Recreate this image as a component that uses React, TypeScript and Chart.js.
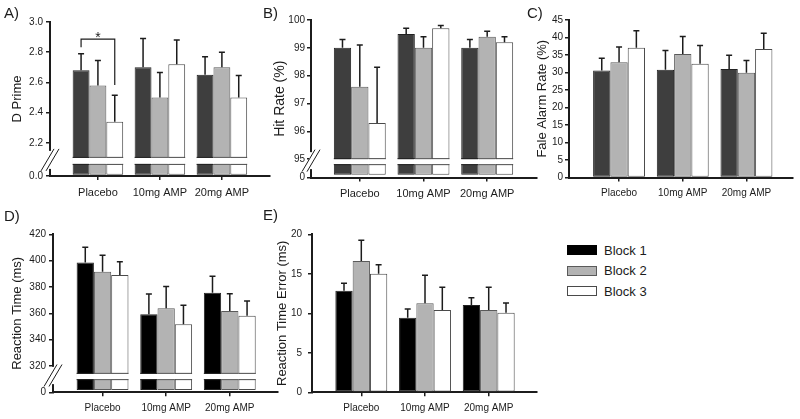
import React, { useEffect, useRef } from 'react';
import { Chart, registerables } from 'chart.js';

Chart.register(...registerables);

const FONT = '"Liberation Sans", Arial, Helvetica, sans-serif';
const INK = '#1c1c1c';

// ---------- data ----------
const categories = ['Placebo', '10mg AMP', '20mg AMP'];
const blockLabels = ['Block 1', 'Block 2', 'Block 3'];

// A) D Prime
const dPrimeBlock1 = [2.68, 2.70, 2.65];
const dPrimeBlock2 = [2.58, 2.50, 2.70];
const dPrimeBlock3 = [2.34, 2.72, 2.50];
const dPrimeSem1 = [0.11, 0.19, 0.12];
const dPrimeSem2 = [0.165, 0.165, 0.10];
const dPrimeSem3 = [0.175, 0.16, 0.145];
const dPrimeTicks = [2.2, 2.4, 2.6, 2.8, 3.0];

// B) Hit Rate (%)
const hitBlock1 = [99.0, 99.5, 99.0];
const hitBlock2 = [97.6, 99.0, 99.4];
const hitBlock3 = [96.3, 99.7, 99.2];
const hitSem1 = [0.3, 0.2, 0.3];
const hitSem2 = [1.5, 0.4, 0.2];
const hitSem3 = [2.0, 0.1, 0.2];
const hitTicks = [95, 96, 97, 98, 99, 100];

// C) False alarm rate (%)
const faBlock1 = [30.6, 30.8, 31.0];
const faBlock2 = [32.9, 35.3, 29.9];
const faBlock3 = [37.1, 32.5, 36.7];
const faSem1 = [3.5, 5.5, 3.9];
const faSem2 = [4.4, 5.0, 3.5];
const faSem3 = [4.8, 5.2, 4.5];
const faTicks = [0, 5, 10, 15, 20, 25, 30, 35, 40, 45];

// D) Reaction time (ms)
const rtBlock1 = [398.5, 359.2, 375.7];
const rtBlock2 = [391.6, 363.8, 361.8];
const rtBlock3 = [389.1, 351.6, 358.2];
const rtSem1 = [11.6, 15.5, 12.4];
const rtSem2 = [12.5, 16.5, 13.1];
const rtSem3 = [10.1, 14.5, 11.2];
const rtTicks = [320, 340, 360, 380, 400, 420];

// E) Reaction time error (ms)
const rteBlock1 = [12.87, 9.45, 11.05];
const rteBlock2 = [16.62, 11.27, 10.42];
const rteBlock3 = [15.02, 10.42, 10.08];
const rteSem1 = [0.93, 1.1, 0.93];
const rteSem2 = [2.62, 3.54, 2.87];
const rteSem3 = [1.14, 2.87, 1.23];
const rteTicks = [0, 5, 10, 15, 20];

// ---------- panel specs ----------
const GREY_COLORS = ['#3e3e3e', '#b3b3b3', '#ffffff'];
const BLACK_COLORS = ['#000000', '#b3b3b3', '#ffffff'];
const BORDERS = ['#222222', '#5a5a5a', '#4a4a4a'];

type Spec = any;

const specs: Spec[] = [
  {
    key: 'A', letter: 'A)', letterPos: [4, 5],
    canvas: { left: 0, top: 0, width: 280, height: 210 },
    pad: { left: 0, top: 22, right: 10, bottom: 0 }, yWidth: 50, xHeight: 34,
    xRange: [-0.773, 2.776],
    yMin: 1.98, yMax: 3.0, yTicks: dPrimeTicks, zeroLabel: '0.0', decimals: 1,
    base: 1.988, breakRange: [2.06, 2.10],
    title: 'D Prime', titleSize: 13, titlePad: 9.2,
    tickSize: 10, tickPad: 3, labelSize: 11,
    series: [dPrimeBlock1, dPrimeBlock2, dPrimeBlock3],
    sems: [dPrimeSem1, dPrimeSem2, dPrimeSem3],
    colors: GREY_COLORS,
    bracket: { from: 0, to: 2, index: 0, level: 2.886, leftEnd: 2.833, rightEnd: 2.583, text: '*' },
  },
  {
    key: 'B', letter: 'B)', letterPos: [263, 5],
    canvas: { left: 265, top: 0, width: 280, height: 210 },
    pad: { left: 0, top: 20, right: 8, bottom: 0 }, yWidth: 46, xHeight: 32.5,
    xRange: [-0.766, 2.782],
    yMin: 94.34, yMax: 100, yTicks: hitTicks, zeroLabel: '0', decimals: 0,
    base: 94.44, breakRange: [94.82, 95.0],
    title: 'Hit Rate (%)', titleSize: 14, titlePad: 6.6,
    tickSize: 10, tickPad: 2, labelSize: 11,
    series: [hitBlock1, hitBlock2, hitBlock3],
    sems: [hitSem1, hitSem2, hitSem3],
    colors: GREY_COLORS,
  },
  {
    key: 'C', letter: 'C)', letterPos: [527, 5],
    canvas: { left: 525, top: 0, width: 275, height: 210 },
    pad: { left: 0, top: 20, right: 7, bottom: 0 }, yWidth: 44, xHeight: 32.5,
    xRange: [-0.786, 2.731],
    yMin: 0, yMax: 45, yTicks: faTicks, decimals: 0,
    title: 'Fale Alarm Rate (%)', titleSize: 13, titlePad: 9.2,
    tickSize: 10, tickPad: 2, labelSize: 10,
    series: [faBlock1, faBlock2, faBlock3],
    sems: [faSem1, faSem2, faSem3],
    colors: GREY_COLORS,
  },
  {
    key: 'D', letter: 'D)', letterPos: [4, 208],
    canvas: { left: 0, top: 205, width: 285, height: 214 },
    pad: { left: 0, top: 29.3, right: 7, bottom: 0 }, yWidth: 53, xHeight: 26.7,
    xRange: [-0.779, 2.758],
    yMin: 300, yMax: 420, yTicks: rtTicks, zeroLabel: '0', decimals: 0,
    base: 301.8, breakRange: [310, 314],
    title: 'Reaction Time (ms)', titleSize: 13, titlePad: 9.7,
    tickSize: 10, tickPad: 3, labelSize: 10,
    series: [rtBlock1, rtBlock2, rtBlock3],
    sems: [rtSem1, rtSem2, rtSem3],
    colors: BLACK_COLORS,
  },
  {
    key: 'E', letter: 'E)', letterPos: [263, 207],
    canvas: { left: 265, top: 205, width: 280, height: 214 },
    pad: { left: 0, top: 29.3, right: 8, bottom: 0 }, yWidth: 47, xHeight: 26.7,
    xRange: [-0.774, 2.758],
    yMin: 0, yMax: 20, yTicks: rteTicks, decimals: 0,
    title: 'Reaction Time Error (ms)', titleSize: 13, titlePad: 9.7,
    tickSize: 10, tickPad: 6, labelSize: 10,
    series: [rteBlock1, rteBlock2, rteBlock3],
    sems: [rteSem1, rteSem2, rteSem3],
    colors: BLACK_COLORS,
  },
];

// ---------- plugin ----------
function makeExtras(spec: Spec) {
  return {
    id: 'extras' + spec.key,
    afterDatasetsDraw(chart: any) {
      const ctx = chart.ctx;
      const ys = chart.scales.y;
      if (spec.breakRange) {
        const yHi = ys.getPixelForValue(spec.breakRange[1]);
        const yLo = ys.getPixelForValue(spec.breakRange[0]);
        ctx.save();
        chart.data.datasets.forEach((ds: any, di: number) => {
          chart.getDatasetMeta(di).data.forEach((bar: any) => {
            const l = bar.x - bar.width / 2;
            const w = bar.width;
            ctx.fillStyle = '#ffffff';
            ctx.fillRect(l - 0.5, yHi, w + 1, yLo - yHi);
            ctx.strokeStyle = ds.borderColor;
            ctx.lineWidth = 1;
            ctx.beginPath();
            ctx.moveTo(l, yHi - 0.5);
            ctx.lineTo(l + w, yHi - 0.5);
            ctx.moveTo(l, yLo + 0.5);
            ctx.lineTo(l + w, yLo + 0.5);
            ctx.stroke();
          });
        });
        ctx.restore();
      }
      ctx.save();
      ctx.strokeStyle = INK;
      ctx.lineWidth = 1.5;
      spec.sems.forEach((sem: number[], di: number) => {
        chart.getDatasetMeta(di).data.forEach((bar: any, i: number) => {
          const top = ys.getPixelForValue(spec.series[di][i] + sem[i]);
          ctx.beginPath();
          ctx.moveTo(bar.x, bar.y);
          ctx.lineTo(bar.x, top);
          ctx.moveTo(bar.x - 3, top);
          ctx.lineTo(bar.x + 3, top);
          ctx.stroke();
        });
      });
      ctx.restore();
    },
    afterDraw(chart: any) {
      const ctx = chart.ctx;
      const ys = chart.scales.y;
      if (spec.breakRange) {
        const yHi = ys.getPixelForValue(spec.breakRange[1]);
        const yLo = ys.getPixelForValue(spec.breakRange[0]);
        const xA = chart.chartArea.left;
        const gTop = yHi - 7;
        const gBot = yLo + 5;
        ctx.save();
        ctx.fillStyle = '#ffffff';
        ctx.fillRect(xA - 2, gTop, 4, gBot - gTop);
        const cy = (gTop + gBot) / 2;
        ctx.strokeStyle = INK;
        ctx.lineWidth = 1;
        [-2.5, 2.5].forEach((off) => {
          ctx.beginPath();
          ctx.moveTo(xA + off - 6.5, cy + 11);
          ctx.lineTo(xA + off + 6.5, cy - 11);
          ctx.stroke();
        });
        ctx.restore();
      }
      if (spec.bracket) {
        const b = spec.bracket;
        const x0 = chart.getDatasetMeta(b.from).data[b.index].x;
        const x1 = chart.getDatasetMeta(b.to).data[b.index].x;
        const yb = ys.getPixelForValue(b.level);
        const yl = ys.getPixelForValue(b.leftEnd);
        const yr = ys.getPixelForValue(b.rightEnd);
        ctx.save();
        ctx.strokeStyle = INK;
        ctx.lineWidth = 1.2;
        ctx.beginPath();
        ctx.moveTo(x0, yl);
        ctx.lineTo(x0, yb);
        ctx.lineTo(x1, yb);
        ctx.lineTo(x1, yr);
        ctx.stroke();
        ctx.fillStyle = INK;
        ctx.font = `14px ${FONT}`;
        ctx.textAlign = 'center';
        ctx.textBaseline = 'alphabetic';
        ctx.fillText(b.text, (x0 + x1) / 2, yb + 3);
        ctx.restore();
      }
    },
  };
}

function buildConfig(spec: Spec): any {
  const yTickVals = spec.zeroLabel ? [spec.yMin, ...spec.yTicks] : spec.yTicks;
  return {
    type: 'bar',
    data: {
      datasets: spec.series.map((vals: number[], k: number) => ({
        label: blockLabels[k],
        data: vals.map((v, i) => ({ x: i, y: v })),
        backgroundColor: spec.colors[k],
        borderColor: BORDERS[k],
        borderWidth: 1,
        borderSkipped: false,
        categoryPercentage: 0.815,
        barPercentage: 1,
        ...(spec.base !== undefined ? { base: spec.base } : {}),
      })),
    },
    options: {
      responsive: false,
      animation: false,
      events: [],
      layout: { padding: spec.pad },
      plugins: { legend: { display: false }, tooltip: { enabled: false } },
      scales: {
        x: {
          type: 'linear',
          offset: false,
          min: spec.xRange[0],
          max: spec.xRange[1],
          afterBuildTicks: (s: any) => {
            s.ticks = categories.map((_, i) => ({ value: i }));
          },
          afterFit: (s: any) => {
            s.height = spec.xHeight;
          },
          grid: { offset: false, drawOnChartArea: false, drawTicks: true, tickLength: 4, color: INK, lineWidth: 1.5 },
          border: { display: true, color: INK, width: 2 },
          ticks: {
            color: INK,
            font: { family: FONT, size: spec.labelSize },
            padding: 6,
            maxRotation: 0,
            autoSkip: false,
            callback: (v: number) => categories[v] ?? '',
          },
        },
        y: {
          type: 'linear',
          min: spec.yMin,
          max: spec.yMax,
          afterBuildTicks: (s: any) => {
            s.ticks = yTickVals.map((v: number) => ({ value: v }));
          },
          afterFit: (s: any) => {
            s.width = spec.yWidth;
          },
          grid: { drawOnChartArea: false, drawTicks: true, tickLength: 4, color: INK, lineWidth: 1.5 },
          border: { display: true, color: INK, width: 2 },
          ticks: {
            color: INK,
            font: { family: FONT, size: spec.tickSize },
            padding: spec.tickPad,
            callback: (v: number) =>
              spec.zeroLabel && v === spec.yMin ? spec.zeroLabel : Number(v).toFixed(spec.decimals),
          },
          title: {
            display: true,
            text: spec.title,
            color: INK,
            font: { family: FONT, size: spec.titleSize },
            padding: { top: spec.titlePad, bottom: 0 },
          },
        },
      },
    },
    plugins: [makeExtras(spec)],
  };
}

function Panel({ spec }: { spec: Spec }) {
  const ref = useRef<HTMLCanvasElement | null>(null);
  useEffect(() => {
    if (!ref.current) return;
    const chart = new Chart(ref.current, buildConfig(spec));
    return () => chart.destroy();
  }, [spec]);
  const c = spec.canvas;
  return (
    <canvas
      ref={ref}
      width={c.width}
      height={c.height}
      style={{ position: 'absolute', left: c.left, top: c.top, width: c.width, height: c.height }}
    />
  );
}

const legendFills = ['#000000', '#b3b3b3', '#ffffff'];
const legendBorders = ['#000000', '#5a5a5a', '#4a4a4a'];

export default function App() {
  return (
    <div
      style={{
        position: 'fixed',
        left: 0,
        top: 0,
        width: 800,
        height: 419,
        background: '#ffffff',
        fontFamily: FONT,
        color: INK,
        overflow: 'hidden',
      }}
    >
      {specs.map((s) => (
        <Panel key={s.key} spec={s} />
      ))}
      {specs.map((s) => (
        <div
          key={'l' + s.key}
          style={{
            position: 'absolute',
            left: s.letterPos[0],
            top: s.letterPos[1],
            fontSize: 15,
            lineHeight: 1,
          }}
        >
          {s.letter}
        </div>
      ))}
      {blockLabels.map((lab, k) => (
        <div
          key={lab}
          style={{
            position: 'absolute',
            left: 567,
            top: 240 + k * 20.7,
            height: 20,
            display: 'flex',
            alignItems: 'center',
          }}
        >
          <div
            style={{
              width: 30,
              height: 10,
              boxSizing: 'border-box',
              background: legendFills[k],
              border: `1px solid ${legendBorders[k]}`,
            }}
          />
          <span style={{ marginLeft: 7, fontSize: 13, lineHeight: 1 }}>{lab}</span>
        </div>
      ))}
    </div>
  );
}
